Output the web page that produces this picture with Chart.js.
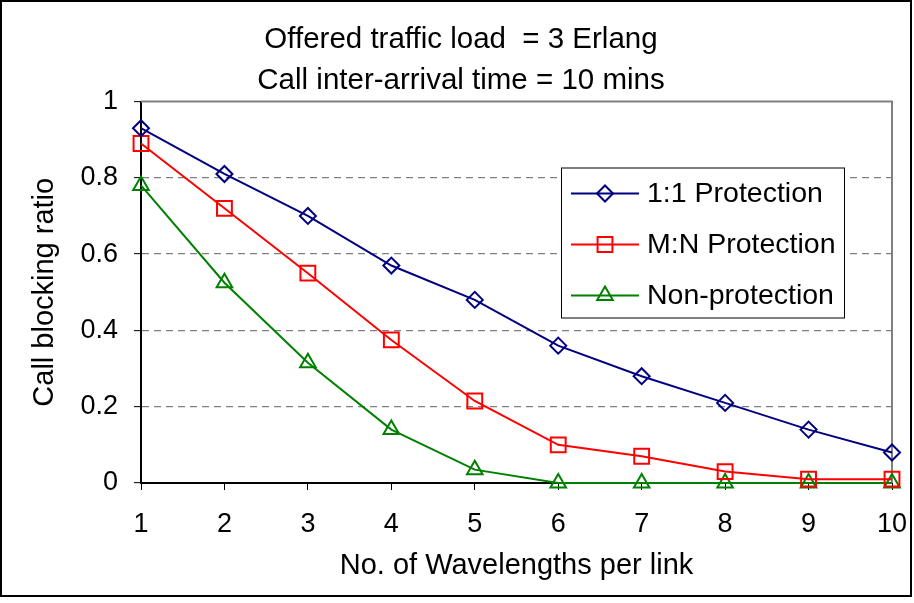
<!DOCTYPE html>
<html>
<head>
<meta charset="utf-8">
<script src="https://cdn.jsdelivr.net/npm/chart.js@4/dist/chart.umd.min.js"></script>
<style>
  html, body { margin: 0; padding: 0; background: #ffffff; }
  #wrap { width: 914px; height: 603px; position: relative; }
</style>
</head>
<body>
<div id="wrap"><canvas id="chart" width="914" height="603"></canvas></div>
<script>
// Wavelengths per link (x categories)
const wavelengths = ['1', '2', '3', '4', '5', '6', '7', '8', '9', '10'];

// Call blocking ratio for each protection scheme
const oneToOne   = [0.93, 0.81, 0.70, 0.57, 0.48, 0.36, 0.28, 0.21, 0.14, 0.08];
const mToN       = [0.89, 0.72, 0.55, 0.375, 0.215, 0.10, 0.07, 0.03, 0.01, 0.01];
const nonProtect = [0.78, 0.525, 0.315, 0.14, 0.035, 0, 0, 0, 0, 0];

const seriesNames = ['1:1 Protection', 'M:N Protection', 'Non-protection'];
const yTicks = [0, 0.2, 0.4, 0.6, 0.8, 1];
const titleLines = ['Offered traffic load  = 3 Erlang', 'Call inter-arrival time = 10 mins'];

const FONT = "'Liberation Sans', Arial, sans-serif";
const LEFT_PAD = 30;

function series(label, values, color, style, radius) {
  return {
    label: label,
    data: values,
    borderColor: color,
    backgroundColor: color,
    borderWidth: 2,
    tension: 0,
    pointStyle: style,
    pointRadius: radius,
    pointHoverRadius: radius,
    pointBorderWidth: 2,
    pointBorderColor: color,
    pointBackgroundColor: 'rgba(0,0,0,0)',
    clip: false
  };
}

// Outer frame around the whole figure
const outerFrame = {
  id: 'outerFrame',
  beforeDraw(chart) {
    const c = chart.ctx;
    c.save();
    c.fillStyle = '#ffffff';
    c.fillRect(0, 0, chart.width, chart.height);
    c.restore();
  },
  afterDraw(chart) {
    const c = chart.ctx;
    c.save();
    c.strokeStyle = '#000000';
    c.lineWidth = 2;
    c.strokeRect(1, 1, 910, 595);
    c.restore();
  }
};

// Grey top and right edges of the plot area
const plotFrame = {
  id: 'plotFrame',
  beforeDatasetsDraw(chart) {
    const a = chart.chartArea;
    const c = chart.ctx;
    c.save();
    c.strokeStyle = '#808080';
    c.lineWidth = 2;
    c.beginPath();
    c.moveTo(a.left, a.top);
    c.lineTo(a.right, a.top);
    c.lineTo(a.right, a.bottom);
    c.stroke();
    c.restore();
  }
};

function marker(c, style, r, x, y) {
  if (Chart.helpers && Chart.helpers.drawPoint) {
    Chart.helpers.drawPoint(c, { pointStyle: style, radius: r, rotation: 0, borderWidth: 2 }, x, y);
    return;
  }
  c.beginPath();
  if (style === 'rectRot') {
    c.moveTo(x, y - r); c.lineTo(x + r, y); c.lineTo(x, y + r); c.lineTo(x - r, y); c.closePath();
  } else if (style === 'rect') {
    const s = r * Math.SQRT1_2; c.rect(x - s, y - s, 2 * s, 2 * s);
  } else {
    c.moveTo(x, y - r); c.lineTo(x + r * 0.866, y + r / 2); c.lineTo(x - r * 0.866, y + r / 2); c.closePath();
  }
  c.stroke();
}

// Boxed legend placed inside the plot area
const boxedLegend = {
  id: 'boxedLegend',
  afterDatasetsDraw(chart) {
    const a = chart.chartArea;
    const c = chart.ctx;
    const x0 = a.left + 420, y0 = a.top + 66, w = 283, h = 150;
    c.save();
    c.fillStyle = '#ffffff';
    c.fillRect(x0, y0, w, h);
    c.strokeStyle = '#000000';
    c.lineWidth = 1;
    c.strokeRect(x0 + 0.5, y0 + 0.5, w, h);
    chart.data.datasets.forEach((ds, i) => {
      const cy = y0 + 26 + i * 51;
      c.strokeStyle = ds.borderColor;
      c.fillStyle = 'rgba(0,0,0,0)';
      c.lineWidth = 2;
      c.beginPath();
      c.moveTo(x0 + 10, cy);
      c.lineTo(x0 + 78, cy);
      c.stroke();
      marker(c, ds.pointStyle, ds.pointRadius, x0 + 44, cy);
      c.fillStyle = '#000000';
      c.font = '28.5px ' + FONT;
      c.textBaseline = 'middle';
      c.textAlign = 'left';
      c.fillText(ds.label, x0 + 86, cy + 1);
    });
    c.restore();
  }
};

new Chart(document.getElementById('chart'), {
  type: 'line',
  data: {
    labels: wavelengths,
    datasets: [
      series(seriesNames[0], oneToOne, '#000080', 'rectRot', 8),
      series(seriesNames[1], mToN, '#ff0000', 'rect', 10.5),
      series(seriesNames[2], nonProtect, '#008000', 'triangle', 9)
    ]
  },
  options: {
    responsive: false,
    animation: false,
    events: [],
    layout: { padding: { left: LEFT_PAD, right: 22, top: 0, bottom: 0 } },
    plugins: {
      legend: { display: false },
      tooltip: { enabled: false },
      title: {
        display: true,
        text: titleLines,
        color: '#000000',
        font: { family: FONT, size: 29.5, weight: 'normal', lineHeight: '41px' },
        padding: { top: 19.5, bottom: 0 }
      }
    },
    scales: {
      x: {
        type: 'category',
        offset: false,
        afterFit(scale) {
          scale.height = 120;
          scale.paddingLeft = 0;
          scale.paddingRight = 0;
        },
        grid: { display: true, drawOnChartArea: false, drawTicks: true, tickLength: 7, tickColor: '#000000', tickWidth: 1 },
        border: { display: true, color: '#000000', width: 2 },
        ticks: { color: '#000000', padding: 18, maxRotation: 0, autoSkip: false, font: { family: FONT, size: 27 } },
        title: {
          display: true,
          text: 'No. of Wavelengths per link',
          color: '#000000',
          font: { family: FONT, size: 29 },
          padding: { top: 0, bottom: 20 }
        }
      },
      y: {
        min: 0,
        max: 1,
        afterFit(scale) {
          scale.width = 141 - LEFT_PAD;
          scale.paddingTop = 0;
          scale.paddingBottom = 0;
        },
        afterBuildTicks(scale) { scale.ticks = yTicks.map(v => ({ value: v })); },
        grid: {
          drawTicks: true,
          tickLength: 7,
          tickColor: '#000000',
          tickWidth: 1,
          lineWidth: 1.3,
          color: ctx => (ctx.tick && ctx.tick.value > 0 && ctx.tick.value < 1) ? '#808080' : 'rgba(0,0,0,0)'
        },
        border: { display: true, color: '#000000', width: 2, dash: [7, 5] },
        ticks: {
          color: '#000000',
          padding: 16,
          font: { family: FONT, size: 27 },
          callback: v => String(v)
        },
        title: {
          display: true,
          text: 'Call blocking ratio',
          color: '#000000',
          font: { family: FONT, size: 29, lineHeight: 1 },
          padding: { top: 0, bottom: 0 }
        }
      }
    }
  },
  plugins: [outerFrame, plotFrame, boxedLegend]
});
</script>
</body>
</html>
